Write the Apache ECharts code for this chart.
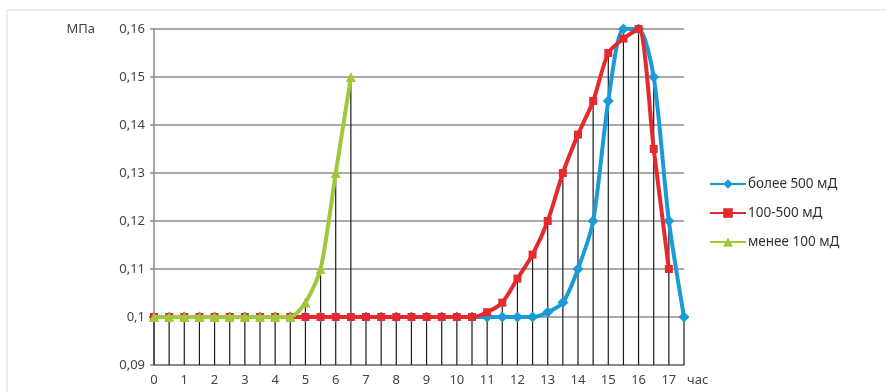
<!DOCTYPE html>
<html><head><meta charset="utf-8">
<script src="https://cdn.jsdelivr.net/npm/echarts@6/dist/echarts.min.js"></script>
<style>html,body{margin:0;padding:0;background:#fff}#c{width:886px;height:392px}</style>
</head><body><div id="c"></div>
<script>
var hours = [0,0.5,1,1.5,2,2.5,3,3.5,4,4.5,5,5.5,6,6.5,7,7.5,8,8.5,9,9.5,10,10.5,11,11.5,12,12.5,13,13.5,14,14.5,15,15.5,16,16.5,17,17.5];
var seriesNames = ['более 500 мД','100-500 мД','менее 100 мД'];
var over500 = [0.1,0.1,0.1,0.1,0.1,0.1,0.1,0.1,0.1,0.1,0.1,0.1,0.1,0.1,0.1,0.1,0.1,0.1,0.1,0.1,0.1,0.1,0.1,0.1,0.1,0.1,0.101,0.103,0.11,0.12,0.145,0.16,0.16,0.15,0.12,0.1];
var mid100500 = [0.1,0.1,0.1,0.1,0.1,0.1,0.1,0.1,0.1,0.1,0.1,0.1,0.1,0.1,0.1,0.1,0.1,0.1,0.1,0.1,0.1,0.1,0.101,0.103,0.108,0.113,0.12,0.13,0.138,0.145,0.155,0.158,0.16,0.135,0.11,null];
var under100 = [0.1,0.1,0.1,0.1,0.1,0.1,0.1,0.1,0.1,0.1,0.103,0.11,0.13,0.15,null,null,null,null,null,null,null,null,null,null,null,null,null,null,null,null,null,null,null,null,null,null];
var yTicks = [0.09,0.10,0.11,0.12,0.13,0.14,0.15,0.16];
var yUnit = 'МПа';
var xUnit = 'час';

var dropLines = hours.map(function(h,i){
  var vals=[over500[i],mid100500[i],under100[i]].filter(function(v){return v!=null;});
  return Math.max.apply(null, vals);
});

var colors = ['#1a9ad6','#e52a2e','#a2c73b'];
var font = '"Noto Sans", "Open Sans", sans-serif';
var chart = echarts.init(document.getElementById('c'));
chart.setOption({
  animation:false,
  textStyle:{fontFamily:font},
  graphic:[{type:'rect',shape:{x:7,y:10,width:900,height:400},style:{fill:'none',stroke:'#d9d9d9',lineWidth:1},silent:true,z:-10}],
  grid:{left:154,right:202,top:29,bottom:27,containLabel:false},
  legend:{
    orient:'vertical', left:704, top:172, itemGap:15, itemWidth:36, itemHeight:12,
    data:seriesNames,
    textStyle:{fontSize:13.5,color:'#333',fontFamily:font,padding:[0,0,0,-3]}
  },
  xAxis:{
    type:'category', data:hours.map(String), boundaryGap:false,
    axisLine:{lineStyle:{color:'#7f7f7f',width:1.5}},
    axisTick:{show:false},
    axisLabel:{interval:1,color:'#444',fontSize:13,margin:9},
    splitLine:{show:false},
    name:xUnit, nameLocation:'end', nameGap:3,
    nameTextStyle:{color:'#444',fontSize:13,verticalAlign:'top',align:'left',padding:[9,0,0,0]}
  },
  yAxis:{
    type:'value', min:yTicks[0], max:yTicks[yTicks.length-1], interval:0.01,
    axisLine:{show:true,lineStyle:{color:'#8c8c8c',width:1.5}},
    axisTick:{show:true,length:4,lineStyle:{color:'#8c8c8c',width:1.5}},
    axisLabel:{color:'#444',fontSize:13,margin:9,formatter:function(v){return String(Math.round(v*100)/100).replace('.',',');}},
    splitLine:{show:true,lineStyle:{color:'#8c8c8c',width:1.5}},
    name:yUnit, nameLocation:'end', nameGap:0,
    nameTextStyle:{color:'#444',fontSize:13,align:'right',verticalAlign:'middle',padding:[0,59,0,0]}
  },
  series:[
    {type:'bar',data:dropLines,barWidth:1.2,itemStyle:{color:'#1a1a1a'},silent:true,z:1,legendHoverLink:false},
    {name:seriesNames[0],type:'line',data:over500,smooth:0.25,symbol:'diamond',symbolSize:11,showAllSymbol:true,
     lineStyle:{color:colors[0],width:4},itemStyle:{color:colors[0]},z:3},
    {name:seriesNames[1],type:'line',data:mid100500,smooth:0.25,symbol:'rect',symbolSize:8,showAllSymbol:true,
     lineStyle:{color:colors[1],width:4},itemStyle:{color:colors[1]},z:4},
    {name:seriesNames[2],type:'line',data:under100,smooth:0.25,symbol:'triangle',symbolSize:10,showAllSymbol:true,
     lineStyle:{color:colors[2],width:4},itemStyle:{color:colors[2]},z:5}
  ]
});
</script></body></html>
